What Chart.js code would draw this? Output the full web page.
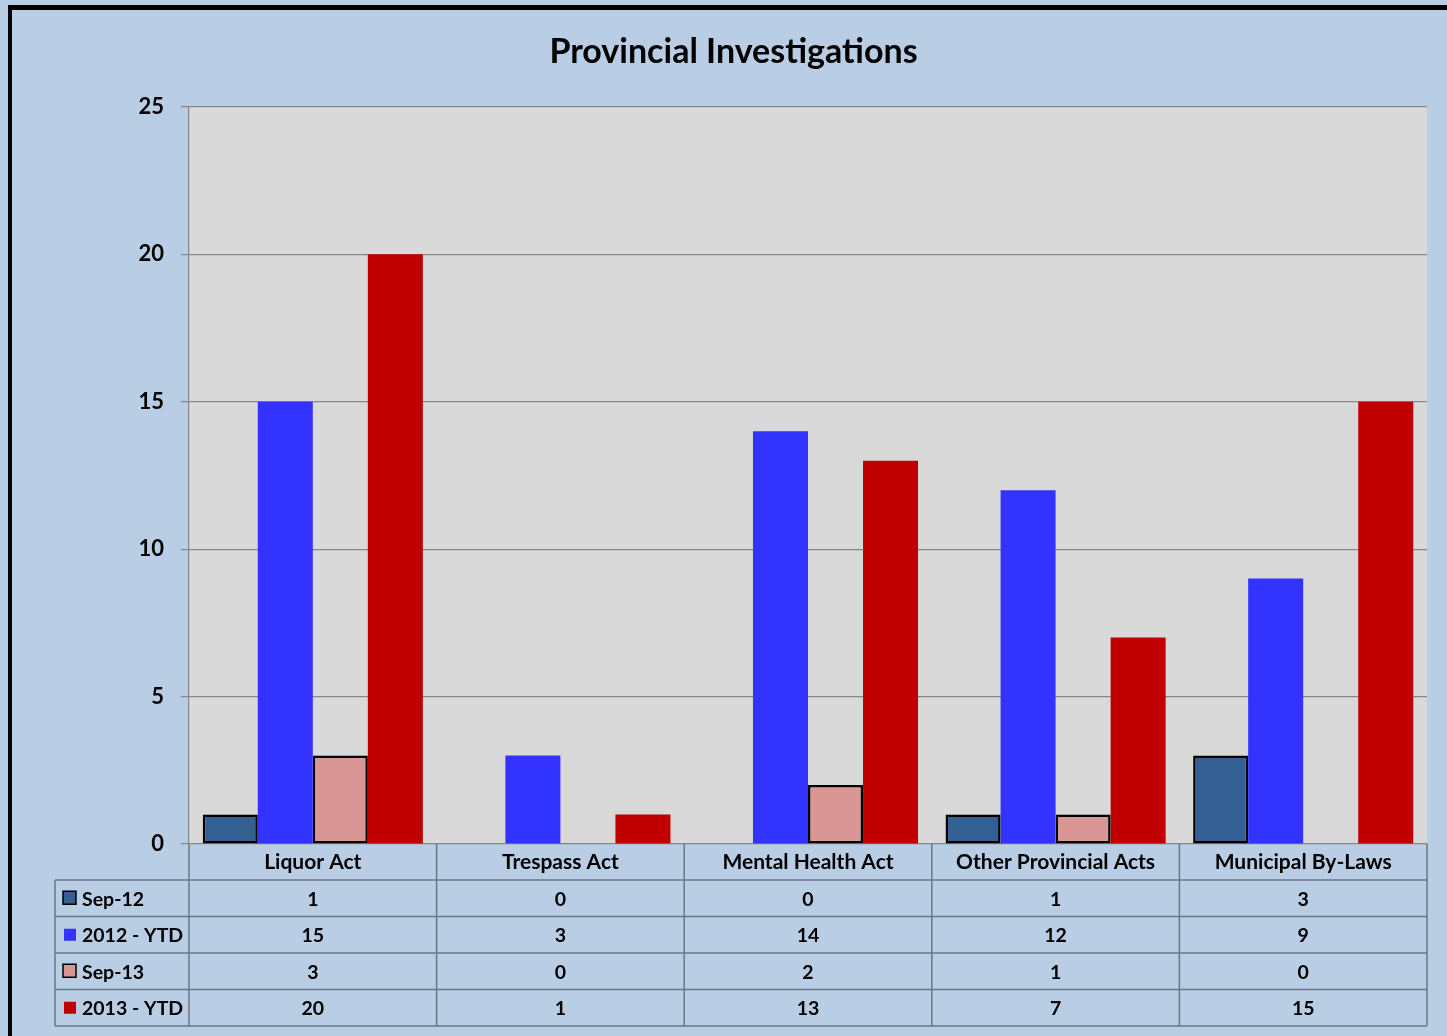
<!DOCTYPE html>
<html>
<head>
<meta charset="utf-8">
<script src="https://cdn.jsdelivr.net/npm/chart.js@4.4.0/dist/chart.umd.min.js"></script>
<style>
  html, body { margin: 0; padding: 0; background: #b9cde5; overflow: hidden; }
  #frame {
    position: absolute; left: 8px; top: 5px; width: 1460px; height: 1060px;
    border-left: 4px solid #000; border-top: 5px solid #000;
  }
  #chart { position: absolute; left: 0; top: 0; }
</style>
</head>
<body>
<div id="frame"><canvas id="chart" width="1443" height="1026"></canvas></div>
<script>
const categories = ["Liquor Act", "Trespass Act", "Mental Health Act", "Other Provincial Acts", "Municipal By-Laws"];
const seriesNames = ["Sep-12", "2012 - YTD", "Sep-13", "2013 - YTD"];
const sep12 = [1, 0, 0, 1, 3];
const ytd2012 = [15, 3, 14, 12, 9];
const sep13 = [3, 0, 2, 1, 0];
const ytd2013 = [20, 1, 13, 7, 15];
const yMax = 25;
const yStep = 5;

const FONT = "Lato";
const colors = ["#335f92", "#3333ff", "#d99694", "#c00000"];
const outlined = [true, false, true, false];

const plotBackground = {
  id: "plotBackground",
  beforeDraw(chart) {
    const { ctx, chartArea: a } = chart;
    ctx.save();
    ctx.fillStyle = "#d9d9d9";
    ctx.fillRect(a.left, a.top, a.right - a.left, a.bottom - a.top);
    ctx.restore();
  },
};

// data table under the plot, columns follow the x scale
const dataTable = {
  id: "dataTable",
  afterDraw(chart) {
    const { ctx, chartArea: a } = chart;
    const x = chart.scales.x;
    const colW = (a.right - a.left) / categories.length;
    const headerBottom = a.bottom + 36;
    const rowH = 36.5;
    const tableLeft = 43;
    const tableBottom = headerBottom + rowH * seriesNames.length;

    ctx.save();
    ctx.strokeStyle = "#6b7786";
    ctx.lineWidth = 1.5;
    ctx.beginPath();
    for (let r = 0; r <= seriesNames.length; r++) {
      const y = headerBottom + r * rowH;
      ctx.moveTo(tableLeft, y);
      ctx.lineTo(a.right, y);
    }
    ctx.moveTo(tableLeft, headerBottom);
    ctx.lineTo(tableLeft, tableBottom);
    for (let i = 0; i <= categories.length; i++) {
      const cx = a.left + i * colW;
      ctx.moveTo(cx, a.bottom);
      ctx.lineTo(cx, tableBottom);
    }
    ctx.stroke();

    ctx.font = `bold 19.5px ${FONT}`;
    ctx.textBaseline = "middle";
    chart.data.datasets.forEach((ds, r) => {
      const cy = headerBottom + r * rowH + rowH / 2;
      // legend key
      ctx.fillStyle = ds.backgroundColor;
      if (outlined[r]) {
        ctx.fillRect(51, cy - 7, 13, 13);
        ctx.strokeStyle = "#000";
        ctx.lineWidth = 1.5;
        ctx.strokeRect(51, cy - 7, 13, 13);
      } else {
        ctx.fillRect(52, cy - 6, 12, 12);
      }
      ctx.fillStyle = "#000";
      ctx.textAlign = "left";
      ctx.fillText(ds.label, 70, cy + 1);
      ctx.textAlign = "center";
      ds.data.forEach((v, i) => {
        ctx.fillText(String(v), x.getPixelForValue(i), cy + 1);
      });
    });
    ctx.restore();
  },
};

const makeDataset = (label, data, i) => ({
  label,
  data,
  backgroundColor: colors[i],
  borderColor: "#000",
  borderWidth: (c) => (outlined[i] && c.raw !== 0 ? 2.5 : 0),
  borderSkipped: false,
});

new Chart(document.getElementById("chart").getContext("2d"), {
  type: "bar",
  data: {
    labels: categories,
    datasets: [
      makeDataset(seriesNames[0], sep12, 0),
      makeDataset(seriesNames[1], ytd2012, 1),
      makeDataset(seriesNames[2], sep13, 2),
      makeDataset(seriesNames[3], ytd2013, 3),
    ],
  },
  options: {
    responsive: false,
    animation: false,
    layout: { padding: { left: 28, right: 28, top: 0, bottom: 156 } },
    datasets: { bar: { categoryPercentage: 0.889, barPercentage: 1 } },
    plugins: {
      legend: { display: false },
      tooltip: { enabled: false },
      title: {
        display: true,
        text: "Provincial Investigations",
        color: "#000",
        font: { family: FONT, size: 34, weight: "bold" },
        padding: { top: 22, bottom: 34 },
      },
    },
    scales: {
      x: {
        grid: { display: false, drawTicks: false },
        border: { display: false },
        ticks: { color: "#000", font: { family: FONT, size: 21, weight: "bold" }, padding: 6, maxRotation: 0 },
        afterFit: (s) => { s.height = 36; },
      },
      y: {
        min: 0,
        max: yMax,
        ticks: { stepSize: yStep, color: "#000", font: { family: FONT, size: 22, weight: "bold" }, padding: 17 },
        grid: { color: "#868686", tickLength: 8, lineWidth: 1.2 },
        border: { color: "#868686", width: 1.2 },
        afterFit: (s) => { s.width = 149; },
      },
    },
  },
  plugins: [plotBackground, dataTable],
});
</script>
</body>
</html>
